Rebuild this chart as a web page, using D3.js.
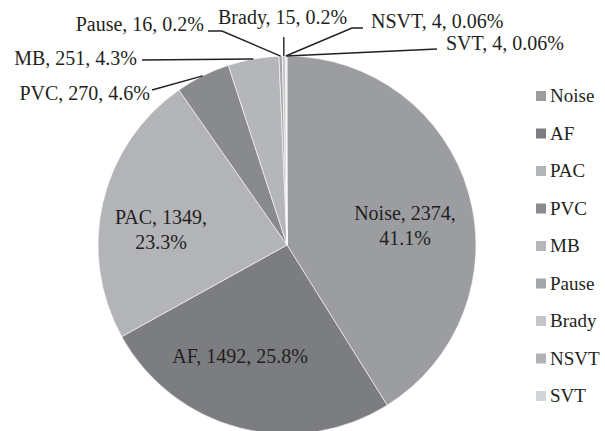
<!DOCTYPE html>
<html>
<head>
<meta charset="utf-8">
<script src="https://cdn.jsdelivr.net/npm/d3@7"></script>
</head>
<body style="margin:0">
<svg id="chart" width="605" height="431"></svg>
<script>
// ---- data ----
const categories = ["Noise", "AF", "PAC", "PVC", "MB", "Pause", "Brady", "NSVT", "SVT"];
const counts     = [2374, 1492, 1349, 270, 251, 16, 15, 4, 4];
const percents   = ["41.1%", "25.8%", "23.3%", "4.6%", "4.3%", "0.2%", "0.2%", "0.06%", "0.06%"];
const colors     = ["#9c9da1", "#7c7d81", "#b3b4b8", "#898a8e", "#b5b6ba", "#a4a5a9", "#c4c5c8", "#b1b2b6", "#d3d4d7"];

// ---- layout ----
const cx = 287, cy = 245, R = 189;
const INK = "#231f20";
const svg = d3.select("#chart");

const pie = d3.pie().sort(null).value(d => d.value);
const rows = categories.map((c, i) => ({ name: c, value: counts[i], pct: percents[i], color: colors[i] }));
const arcs = pie(rows);
const arc = d3.arc().innerRadius(0).outerRadius(R);

const g = svg.append("g").attr("transform", `translate(${cx},${cy})`);
g.selectAll("path").data(arcs).enter().append("path")
  .attr("d", arc)
  .attr("fill", d => d.data.color)
  .attr("stroke", "#ffffff")
  .attr("stroke-width", 0.6);

function edge(a) {
  const m = (a.startAngle + a.endAngle) / 2;
  return [cx + R * Math.sin(m), cy - R * Math.cos(m)];
}

// default browser font (Times-metric serif) is used for all texts
function addText(x, y, anchor, size) {
  return svg.append("text")
    .attr("x", x).attr("y", y)
    .attr("text-anchor", anchor)
    .attr("font-size", size)
    .attr("fill", INK);
}

// inner labels
const inner = {
  Noise: { x: 405, y: 220, lines: d => [`${d.name}, ${d.value},`, d.pct] },
  AF:    { x: 240, y: 363, lines: d => [`${d.name}, ${d.value}, ${d.pct}`] },
  PAC:   { x: 161, y: 224, lines: d => [`${d.name}, ${d.value},`, d.pct] }
};
arcs.forEach(a => {
  const L = inner[a.data.name];
  if (!L) return;
  const t = addText(L.x, L.y, "middle", 20);
  L.lines(a.data).forEach((s, i) => {
    t.append("tspan").attr("x", L.x).attr("dy", i === 0 ? 0 : 25).text(s);
  });
});

// outer labels with leader lines
const outer = {
  PVC:   { tx: 150, ty: 100, anchor: "end",   pts: [[152, 90]] },
  MB:    { tx: 137, ty: 65,  anchor: "end",   pts: [[142, 60]] },
  Pause: { tx: 204, ty: 31,  anchor: "end",   pts: [[208, 31], [222, 31]] },
  Brady: { tx: 218, ty: 24,  anchor: "start", pts: "vertical" },
  NSVT:  { tx: 371, ty: 28,  anchor: "start", pts: [[363, 28], [352, 28]] },
  SVT:   { tx: 446, ty: 50,  anchor: "start", pts: [[437, 49]] }
};
const line = d3.line();
arcs.forEach(a => {
  const L = outer[a.data.name];
  if (!L) return;
  const e = edge(a);
  const pts = L.pts === "vertical" ? [[e[0], 37], e] : L.pts.concat([e]);
  svg.append("path")
    .attr("d", line(pts))
    .attr("fill", "none")
    .attr("stroke", INK)
    .attr("stroke-width", 1.4);
  addText(L.tx, L.ty, L.anchor, 20).text(`${a.data.name}, ${a.data.value}, ${a.data.pct}`);
});

// legend
const legY = d3.scalePoint().domain(categories).range([96, 396]);
categories.forEach((c, i) => {
  const y = legY(c);
  svg.append("rect")
    .attr("x", 536).attr("y", y - 5)
    .attr("width", 10).attr("height", 10)
    .attr("fill", colors[i]);
  addText(550, y + 6, "start", 19).text(c);
});
</script>
</body>
</html>
